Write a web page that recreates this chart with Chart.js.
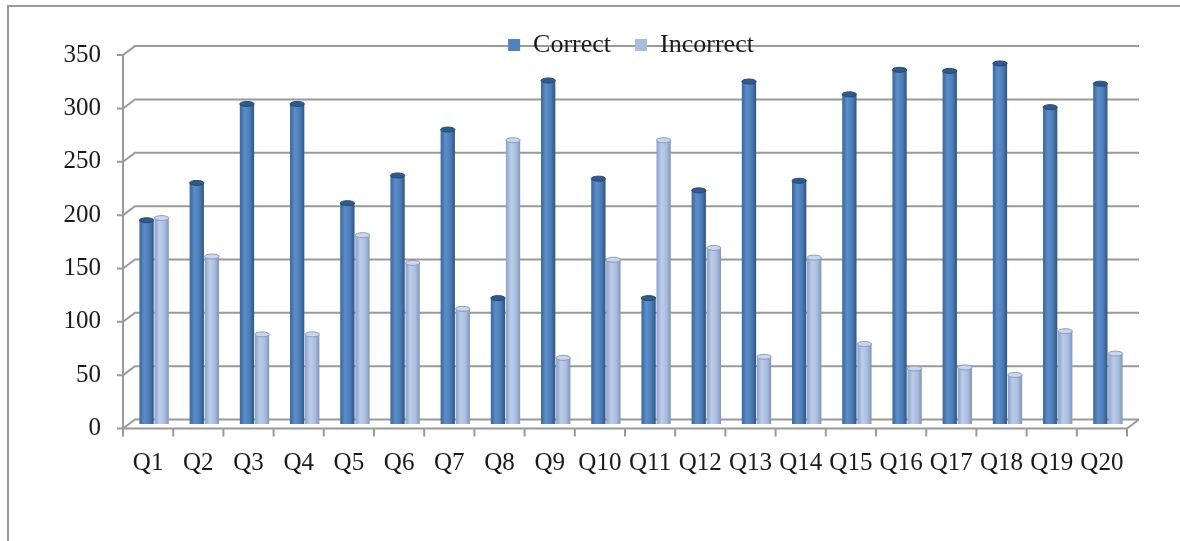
<!DOCTYPE html>
<html>
<head>
<meta charset="utf-8">
<title>Correct / Incorrect</title>
<script src="https://cdn.jsdelivr.net/npm/chart.js@4.4.1/dist/chart.umd.min.js"></script>
<style>
  html, body { margin: 0; padding: 0; background: #fff; overflow: hidden; }
  #wrap { position: relative; width: 1180px; height: 541px; }
  #frame { position: absolute; left: 7px; top: 5px; width: 1300px; height: 700px;
           border-top: 2px solid #9a9a9a; border-left: 2px solid #9a9a9a; }
  canvas { position: absolute; left: 0; top: 0; }
</style>
</head>
<body>
<div id="wrap">
  <div id="frame"></div>
  <canvas id="chart" width="1180" height="541"></canvas>
</div>
<script>
'use strict';

// data
const questions = ['Q1', 'Q2', 'Q3', 'Q4', 'Q5', 'Q6', 'Q7', 'Q8', 'Q9', 'Q10',
                   'Q11', 'Q12', 'Q13', 'Q14', 'Q15', 'Q16', 'Q17', 'Q18', 'Q19', 'Q20'];
const correct   = [191, 226, 300, 300, 207, 233, 276, 118, 322, 230,
                   118, 219, 321, 228, 309, 332, 331, 338, 297, 319];
const incorrect = [193, 157, 84, 84, 177, 151, 108, 266, 62, 154,
                   266, 165, 63, 156, 75, 52, 53, 46, 87, 66];
const yTicks = [0, 50, 100, 150, 200, 250, 300, 350];

// 3d look: front edge / back wall offsets from the bar plane
const DX = 6, DY = 4.5;
const GRID = '#9a9a9a';
const CAT_PCT = 0.6, BAR_PCT = 0.95;

const shades = [
  { legend: '#4F81BD', stops: ['#3a6699', '#5d8ecb', '#4a7cb6', '#2f5583'], cap: '#2f5a8c' },
  { legend: '#A5BDE0', stops: ['#8aa1c8', '#bccde9', '#a9bde0', '#8195bb'], cap: '#c9d6ec' }
];

function cylinder(ctx) {
  const s = shades[ctx.datasetIndex];
  const chart = ctx.chart;
  const x = chart.scales.x;
  if (!chart.chartArea || !x || ctx.dataIndex === undefined) return s.legend;
  const catW = x.width / questions.length;
  const barW = catW * CAT_PCT / 2 * BAR_PCT;
  const c = x.getPixelForValue(ctx.dataIndex) + (ctx.datasetIndex - 0.5) * catW * CAT_PCT / 2;
  const g = chart.ctx.createLinearGradient(c - barW / 2, 0, c + barW / 2, 0);
  g.addColorStop(0, s.stops[0]);
  g.addColorStop(0.35, s.stops[1]);
  g.addColorStop(0.7, s.stops[2]);
  g.addColorStop(1, s.stops[3]);
  return g;
}

// gridlines, walls and floor drawn with a little depth
const depthGrid = {
  id: 'depthGrid',
  afterLayout(chart) {
    // legend only reserves 1px of layout, let it draw over the top of the plot
    const lg = chart.legend;
    if (lg) { lg.bottom = lg.top + 60; lg.height = 60; }
  },
  beforeDraw(chart) {
    const { ctx, chartArea: a, scales: { x, y } } = chart;
    const L = a.left, R = a.right;
    ctx.save();
    ctx.strokeStyle = GRID;
    ctx.lineWidth = 2;
    ctx.beginPath();
    yTicks.forEach(v => {
      const py = y.getPixelForValue(v);
      ctx.moveTo(L - DX - 6, py + DY);
      ctx.lineTo(L - DX, py + DY);
      ctx.lineTo(L + DX, py - DY);
      ctx.lineTo(R + DX, py - DY);
    });
    const top = y.getPixelForValue(350), base = y.getPixelForValue(0);
    // front vertical axis
    ctx.moveTo(L - DX, top + DY);
    ctx.lineTo(L - DX, base + DY + 1);
    // floor front edge and right side
    ctx.moveTo(L - DX, base + DY);
    ctx.lineTo(R - DX, base + DY);
    ctx.lineTo(R + DX, base - DY);
    // category ticks
    const catW = x.width / questions.length;
    for (let i = 0; i <= questions.length; i++) {
      const px = L - DX + i * catW;
      ctx.moveTo(px, base + DY);
      ctx.lineTo(px, base + DY + 8);
    }
    ctx.stroke();
    ctx.restore();
  },
  afterDatasetsDraw(chart) {
    const ctx = chart.ctx;
    ctx.save();
    chart.data.datasets.forEach((ds, di) => {
      chart.getDatasetMeta(di).data.forEach(bar => {
        ctx.beginPath();
        ctx.ellipse(bar.x, bar.y, bar.width / 2, 2.5, 0, 0, Math.PI * 2);
        ctx.fillStyle = shades[di].cap;
        ctx.fill();
        ctx.strokeStyle = di === 0 ? '#26496f' : '#8b9cbc';
        ctx.lineWidth = 1;
        ctx.stroke();
      });
    });
    ctx.restore();
  }
};

const serif = "'Liberation Serif', 'Times New Roman', serif";
const tickFont = { family: serif, size: 25 };

new Chart(document.getElementById('chart').getContext('2d'), {
  type: 'bar',
  data: {
    labels: questions,
    datasets: [
      { label: 'Correct', data: correct, backgroundColor: cylinder, borderWidth: 0 },
      { label: 'Incorrect', data: incorrect, backgroundColor: cylinder, borderWidth: 0 }
    ]
  },
  options: {
    responsive: false,
    animation: false,
    devicePixelRatio: 1,
    layout: { padding: { left: 0, right: 47, top: 8, bottom: 63 } },
    datasets: { bar: { categoryPercentage: CAT_PCT, barPercentage: BAR_PCT } },
    plugins: {
      tooltip: { enabled: false },
      legend: {
        position: 'top',
        align: 'center',
        fullSize: false,
        maxHeight: 1,
        labels: {
          font: { family: serif, size: 26 },
          color: '#1a1a1a',
          boxWidth: 12,
          boxHeight: 12,
          padding: 24,
          generateLabels: (chart) => chart.data.datasets.map((d, i) => ({
            text: d.label,
            fillStyle: shades[i].legend,
            strokeStyle: shades[i].legend,
            lineWidth: 0,
            fontColor: '#1a1a1a',
            hidden: false,
            datasetIndex: i
          }))
        }
      }
    },
    scales: {
      x: {
        afterFit: (s) => { s.height = 54; s.paddingLeft = 0; s.paddingRight = 0; },
        grid: { display: false, drawTicks: false },
        border: { display: false },
        ticks: { font: tickFont, color: '#1a1a1a', padding: 24, labelOffset: -DX,
                 maxRotation: 0, autoSkip: false }
      },
      y: {
        min: 0,
        max: 389,
        afterFit: (s) => { s.width = 129; s.paddingTop = 0; s.paddingBottom = 0; },
        afterBuildTicks: (s) => { s.ticks = yTicks.map(v => ({ value: v })); },
        grid: { display: false, drawTicks: false },
        border: { display: false },
        ticks: { font: tickFont, color: '#1a1a1a', padding: 28, labelOffset: DY }
      }
    }
  },
  plugins: [depthGrid]
});
</script>
</body>
</html>
